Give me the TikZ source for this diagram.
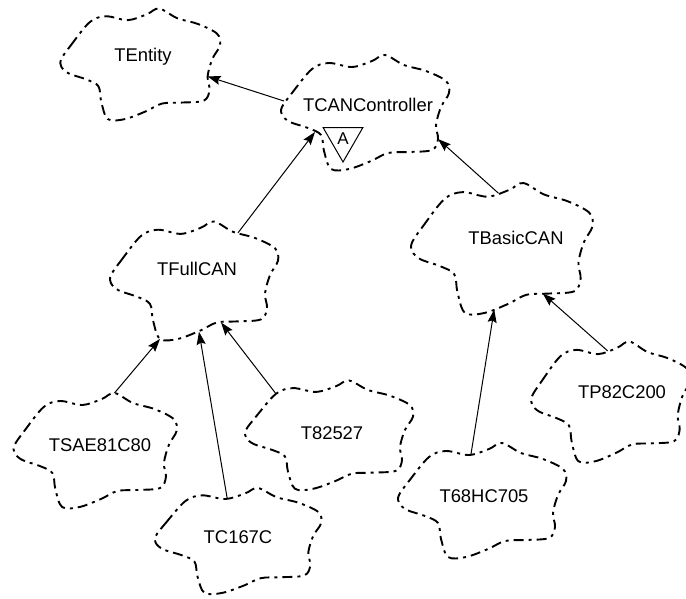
\documentclass[tikz,border=0pt]{standalone}
\usepackage{fontspec}
\setmainfont{Liberation Sans}
\usetikzlibrary{arrows.meta,shapes.geometric}

\tikzset{
  classname/.style={font=\fontsize{18.4}{22}\selectfont, inner sep=0pt},
  cloudline/.style={draw=black, line width=1.9pt,
    dash pattern=on 10pt off 5pt on 3pt off 5pt, line join=round},
  inherits/.style={draw=black, line width=1pt,
    -{Stealth[length=13pt,width=9pt,inset=2pt]}},
  abstractmark/.style={draw=black, line width=1pt, regular polygon,
    regular polygon sides=3, shape border rotate=180, minimum size=46pt,
    inner sep=0pt, font=\fontsize{17}{20}\selectfont},
  % Booch class icon: dashed cloud with named attachment points
  booch/.pic={
    \draw[cloudline] plot[smooth cycle, tension=0.55] coordinates {
      (-86,2) (-76,-12) (-56,-36) (-39,-42) (-16,-38) (4,-44) (17,-50)
      (36,-40) (58,-34) (78,-24) (81,-12) (73,2) (68,20) (70,34) (64,45)
      (40,47) (20,48) (3,56) (-19,64) (-37,64) (-44,46) (-47,30) (-60,23)
      (-78,17) (-86,10)};
    \coordinate (-w)   at (-84,-4);
    \coordinate (-p3)  at (-56,-36);
    \coordinate (-nw)  at (-14,-39);
    \coordinate (-n)   at (-6,-41);
    \coordinate (-top) at (17,-50);
    \coordinate (-ne)  at (41,-39);
    \coordinate (-e)   at (68,20);
    \coordinate (-se)  at (70,34);
    \coordinate (-s5)  at (35,47);
    \coordinate (-s3)  at (24,48);
    \coordinate (-s2)  at (2,57);
    \coordinate (-s4)  at (-10,61);
    \coordinate (-s1)  at (-37,64);
    \coordinate (-sw)  at (-53,27);
  }
}

\begin{document}
\begin{tikzpicture}[x=1pt,y=-1pt]
\useasboundingbox (0,0) rectangle (686,598);

% class names
\node[classname] (tentity)  at (143,57)  {TEntity};
\node[classname] (tcan)     at (368,105) {TCANController};
\node[classname] (tfullcan) at (197,269) {TFullCAN};
\node[classname] (tbasic)   at (516,238) {TBasicCAN};
\node[classname] (tsae)     at (100,445) {TSAE81C80};
\node[classname] (tc167)    at (238,537) {TC167C};
\node[classname] (t82527)   at (332,433) {T82527};
\node[classname] (t68)      at (484,496) {T68HC705};
\node[classname] (tp82)     at (622,392) {TP82C200};

% class clouds
\pic[xscale=0.95, yscale=0.97] (tentity) at (tentity.center) {booch};
\pic (tcan) at (tcan.center) {booch};
\pic[shift={(0,4)}, yscale=1.03] (tfullcan) at (tfullcan.center) {booch};
\pic[shift={(-11,2)}, xscale=1.08, yscale=1.14] (tbasic) at (tbasic.center) {booch};
\pic[shift={(-2,-2)}, xscale=0.97] (tsae) at (tsae.center) {booch};
\pic[shift={(3,-3)}, xscale=0.99, yscale=0.92] (tc167) at (tc167.center) {booch};
\pic[shift={(0,-5)}, yscale=0.95] (t82527) at (t82527.center) {booch};
\pic[shift={(1,-3)}] (t68) at (t68.center) {booch};
\pic[shift={(-8.6,2)}, xscale=0.946, yscale=1.05] (tp82) at (tp82.center) {booch};

% abstract class adornment
\node[abstractmark] (tcanabstract) at (343,139) {A};

% inheritance
\draw[inherits] (tcan-w)     -- (tentity-e);
\draw[inherits] (tfullcan-ne) -- (tcan-sw);
\draw[inherits] (tbasic-n)   -- (tcan-se);
\draw[inherits] (tsae-top)   -- (tfullcan-s1);
\draw[inherits] (tc167-nw)   -- (tfullcan-s2);
\draw[inherits] (t82527-p3)  -- (tfullcan-s3);
\draw[inherits] (t68-nw)     -- (tbasic-s4);
\draw[inherits] (tp82-n)     -- (tbasic-s5);
\end{tikzpicture}
\end{document}
